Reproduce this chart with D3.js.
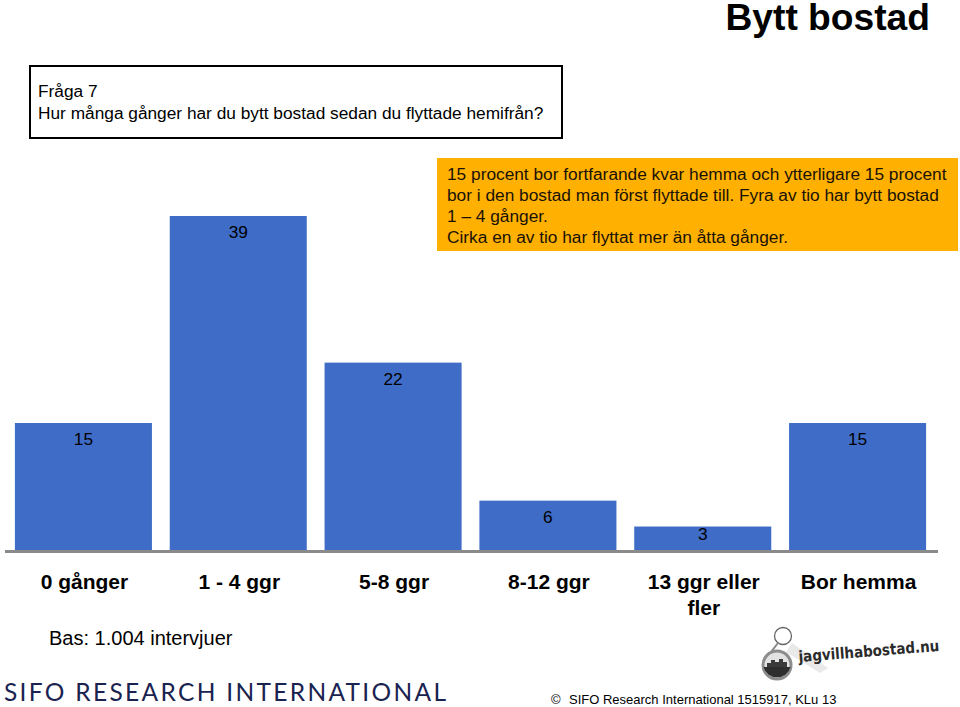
<!DOCTYPE html>
<html>
<head>
<meta charset="utf-8">
<script src="https://cdn.jsdelivr.net/npm/d3@7"></script>
<style>
  html, body { margin: 0; padding: 0; background: #fff; }
  svg { display: block; }
  text { font-family: "Liberation Sans", Arial, sans-serif; }
</style>
</head>
<body>
<svg width="960" height="707"></svg>
<script>
// values
var categories = ["0 gånger", "1 - 4 ggr", "5-8 ggr", "8-12 ggr", "13 ggr eller fler", "Bor hemma"];
var values = [15, 39, 22, 6, 3, 15];
var questionLines = ["Fråga 7", "Hur många gånger har du bytt bostad sedan du flyttade hemifrån?"];
var noteLines = [
  "15 procent bor fortfarande kvar hemma och ytterligare 15 procent",
  "bor i den bostad man först flyttade till. Fyra av tio har bytt bostad",
  "1 – 4 gånger.",
  "Cirka en av tio har flyttat mer än åtta gånger."
];

var svg = d3.select("svg");
var axisY = 551;

var x = d3.scaleBand()
  .domain(categories)
  .range([6, 935])
  .paddingInner(0.115)
  .paddingOuter(0.0575);

var y = d3.scaleLinear()
  .domain([0, 39])
  .range([552.4, 216]);

// title
svg.append("text")
  .attr("x", 930).attr("y", 30)
  .attr("text-anchor", "end")
  .attr("font-size", 37.2)
  .attr("font-weight", "bold")
  .attr("fill", "#000")
  .text("Bytt bostad");

// question box
svg.append("rect")
  .attr("x", 30).attr("y", 66)
  .attr("width", 532).attr("height", 72)
  .attr("fill", "#fff")
  .attr("stroke", "#000")
  .attr("stroke-width", 2);

svg.selectAll(".question")
  .data(questionLines)
  .enter().append("text")
  .attr("class", "question")
  .attr("x", 38)
  .attr("y", (d, i) => 97 + i * 22)
  .attr("font-size", 17.3)
  .text(d => d);

// bars
svg.selectAll(".bar")
  .data(values)
  .enter().append("rect")
  .attr("class", "bar")
  .attr("x", (d, i) => x(categories[i]))
  .attr("y", d => y(d))
  .attr("width", x.bandwidth())
  .attr("height", d => y(0) - y(d))
  .attr("fill", "#3f6cc6");

// value labels, the short bar keeps its label higher up
svg.selectAll(".val")
  .data(values)
  .enter().append("text")
  .attr("class", "val")
  .attr("x", (d, i) => x(categories[i]) + x.bandwidth() / 2)
  .attr("y", d => Math.min(y(d) + 22, 540))
  .attr("text-anchor", "middle")
  .attr("font-size", 17.3)
  .attr("fill", "#000")
  .text(d => d);

// orange comment box, sits on top of the chart
svg.append("rect")
  .attr("x", 437).attr("y", 158)
  .attr("width", 521).attr("height", 93)
  .attr("fill", "#ffb000");

svg.selectAll(".note")
  .data(noteLines)
  .enter().append("text")
  .attr("class", "note")
  .attr("x", 447)
  .attr("y", (d, i) => 179.5 + i * 21)
  .attr("font-size", 17.3)
  .attr("fill", "#1a1206")
  .text(d => d);

// x axis
var axis = svg.append("g")
  .attr("transform", "translate(0," + axisY + ")")
  .call(d3.axisBottom(x).tickSize(0).tickPadding(0));

axis.select(".domain")
  .attr("d", "M5,0.5H938")
  .attr("stroke", "#8a8a8a")
  .attr("stroke-width", 3);

axis.selectAll(".tick text").each(function(d) {
  var t = d3.select(this).text(null)
    .attr("dy", null)
    .attr("font-family", '"Liberation Sans", Arial, sans-serif')
    .attr("font-size", 21)
    .attr("font-weight", "bold")
    .attr("fill", "#000");
  var parts = d === "13 ggr eller fler" ? ["13 ggr eller", "fler"] : [d];
  parts.forEach(function(p, i) {
    t.append("tspan").attr("x", 1).attr("y", 38 + i * 26).text(p);
  });
});

svg.append("text")
  .attr("x", 49).attr("y", 645)
  .attr("font-size", 20)
  .text("Bas: 1.004 intervjuer");

// SIFO wordmark
svg.append("text")
  .attr("x", 4).attr("y", 701)
  .attr("font-size", 24.5)
  .attr("fill", "#1a2350")
  .style("font-family", "Lato, sans-serif")
  .attr("textLength", 442)
  .attr("lengthAdjust", "spacing")
  .text("SIFO RESEARCH INTERNATIONAL");

// keyring logo
var logo = svg.append("g");
logo.append("path")
  .attr("d", "M792,643 L828,668 L820,673 L786,652 Z")
  .attr("fill", "#e9e9e9");
logo.append("circle")
  .attr("cx", 783).attr("cy", 636).attr("r", 8.5)
  .attr("fill", "none").attr("stroke", "#666").attr("stroke-width", 1.3);
logo.append("line")
  .attr("x1", 778).attr("y1", 643).attr("x2", 771).attr("y2", 652)
  .attr("stroke", "#888").attr("stroke-width", 2);
logo.append("circle")
  .attr("cx", 777).attr("cy", 665).attr("r", 14)
  .attr("fill", "#e2e2e2").attr("stroke", "#8c8c8c").attr("stroke-width", 3);
logo.append("path")
  .attr("d", "M763.5,667 L790.5,667 A14,14 0 0 1 763.5,667 Z")
  .attr("fill", "#2e2e2e");
logo.append("path")
  .attr("d", "M767,667 V663 H771 V660 H775 V662 H779 V659 H783 V662 H787 V667 Z")
  .attr("fill", "#3a3a3a");
logo.append("text")
  .attr("transform", "translate(799,662) rotate(-4.5)")
  .attr("font-size", 15.5)
  .attr("font-weight", "bold")
  .attr("fill", "#2b2b2b")
  .attr("textLength", 141)
  .attr("lengthAdjust", "spacingAndGlyphs")
  .style("font-family", "'DejaVu Sans', sans-serif")
  .text("jagvillhabostad.nu");

// copyright
svg.append("text")
  .attr("x", 551).attr("y", 704)
  .attr("font-size", 13)
  .text("©");
svg.append("text")
  .attr("x", 569).attr("y", 704)
  .attr("font-size", 13)
  .text("SIFO Research International 1515917, KLu 13");
</script>
</body>
</html>
